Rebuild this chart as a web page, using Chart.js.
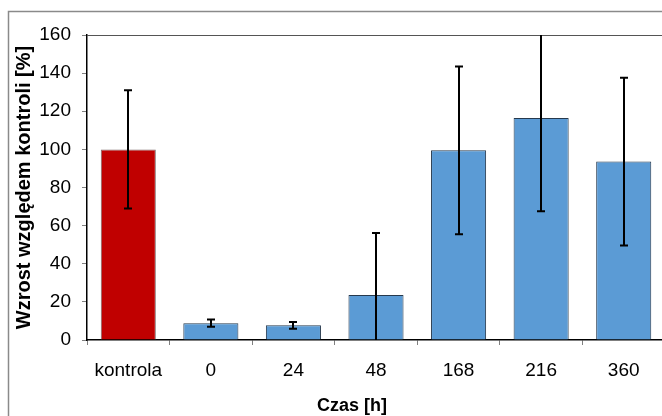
<!DOCTYPE html>
<html>
<head>
<meta charset="utf-8">
<script src="https://cdn.jsdelivr.net/npm/chart.js@4.4.1/dist/chart.umd.min.js"></script>
<style>
  html, body { margin: 0; padding: 0; background: #fff; overflow: hidden; }
  canvas { display: block; }
</style>
</head>
<body>
<canvas id="wzrostChart" width="690" height="430"></canvas>
<script>
// dane
const categories = ['kontrola', '0', '24', '48', '168', '216', '360'];
const growth = [100, 8.8, 7.7, 23.6, 99.5, 116.5, 93.6];
const errors = [31, 1.9, 1.8, 32.5, 44, 49, 44];
const yTicks = [0, 20, 40, 60, 80, 100, 120, 140, 160];
const yTitle = 'Wzrost względem kontroli [%]';
const xTitle = 'Czas [h]';

const barColors = ['#C00000', '#5B9BD5', '#5B9BD5', '#5B9BD5', '#5B9BD5', '#5B9BD5', '#5B9BD5'];
const barBorders = ['#7a6a6a', '#26394d', '#26394d', '#26394d', '#26394d', '#26394d', '#26394d'];

Chart.defaults.font.family = '"Liberation Sans", Arial, sans-serif';
Chart.defaults.color = '#000';

// tlo, ramka i gorna linia obszaru wykresu
const frame = {
    id: 'frame',
    beforeDraw(chart) {
        const ctx = chart.ctx;
        ctx.save();
        ctx.fillStyle = '#fff';
        ctx.fillRect(0, 0, chart.width, chart.height);
        ctx.strokeStyle = '#8a8a8a';
        ctx.lineWidth = 1.5;
        ctx.strokeRect(8.5, 11.5, chart.width + 20, chart.height + 20);
        ctx.restore();
    },
    beforeDatasetsDraw(chart) {
        const a = chart.chartArea;
        const ctx = chart.ctx;
        ctx.save();
        ctx.strokeStyle = '#555';
        ctx.lineWidth = 1;
        ctx.beginPath();
        ctx.moveTo(a.left, a.top + 0.5);
        ctx.lineTo(a.right, a.top + 0.5);
        ctx.stroke();
        ctx.restore();
    },
    afterDraw(chart) {
        const ctx = chart.ctx;
        ctx.save();
        ctx.fillStyle = '#000';
        ctx.font = 'bold 18px "Liberation Sans", Arial, sans-serif';
        ctx.textAlign = 'center';
        ctx.textBaseline = 'alphabetic';
        ctx.fillText(xTitle, 352, 411);
        ctx.restore();
    }
};

// slupki bledow
const errorBars = {
    id: 'errorBars',
    afterDatasetsDraw(chart) {
        const ctx = chart.ctx;
        const a = chart.chartArea;
        const y = chart.scales.y;
        const meta = chart.getDatasetMeta(0);
        ctx.save();
        ctx.beginPath();
        ctx.rect(a.left, a.top, a.right - a.left, a.bottom - a.top);
        ctx.clip();
        ctx.strokeStyle = '#000';
        ctx.lineWidth = 2;
        meta.data.forEach(function(bar, i) {
            const x = Math.round(bar.x);
            const top = y.getPixelForValue(growth[i] + errors[i]);
            const bot = y.getPixelForValue(growth[i] - errors[i]);
            ctx.beginPath();
            ctx.moveTo(x, top);
            ctx.lineTo(x, bot);
            ctx.moveTo(x - 4, top);
            ctx.lineTo(x + 4, top);
            ctx.moveTo(x - 4, bot);
            ctx.lineTo(x + 4, bot);
            ctx.stroke();
        });
        ctx.restore();
    }
};

new Chart(document.getElementById('wzrostChart'), {
    type: 'bar',
    data: {
        labels: categories,
        datasets: [{
            data: growth,
            backgroundColor: barColors,
            borderColor: barBorders,
            borderWidth: 1,
            categoryPercentage: 1,
            barPercentage: 0.667
        }]
    },
    options: {
        responsive: false,
        animation: false,
        layout: { padding: { top: 35, right: 25, left: 0, bottom: 0 } },
        plugins: {
            legend: { display: false },
            tooltip: { enabled: false }
        },
        scales: {
            x: {
                afterFit: function(scale) { scale.height = 90; },
                grid: { drawOnChartArea: false, drawTicks: true, tickLength: 5, color: '#808080' },
                border: { color: '#000', width: 1.5 },
                ticks: { font: { size: 19 }, padding: 14, maxRotation: 0 }
            },
            y: {
                min: 0,
                max: 160,
                afterFit: function(scale) { scale.width = 87; },
                afterBuildTicks: function(scale) {
                    scale.ticks = yTicks.map(function(v) { return { value: v }; });
                },
                grid: { drawOnChartArea: false, drawTicks: true, tickLength: 5, color: '#808080' },
                border: { color: '#000', width: 1.5 },
                ticks: { font: { size: 19 }, padding: 11 },
                title: {
                    display: true,
                    text: yTitle,
                    font: { size: 20, weight: 'bold' },
                    padding: { top: 12, bottom: 0 }
                }
            }
        }
    },
    plugins: [frame, errorBars]
});
</script>
</body>
</html>
